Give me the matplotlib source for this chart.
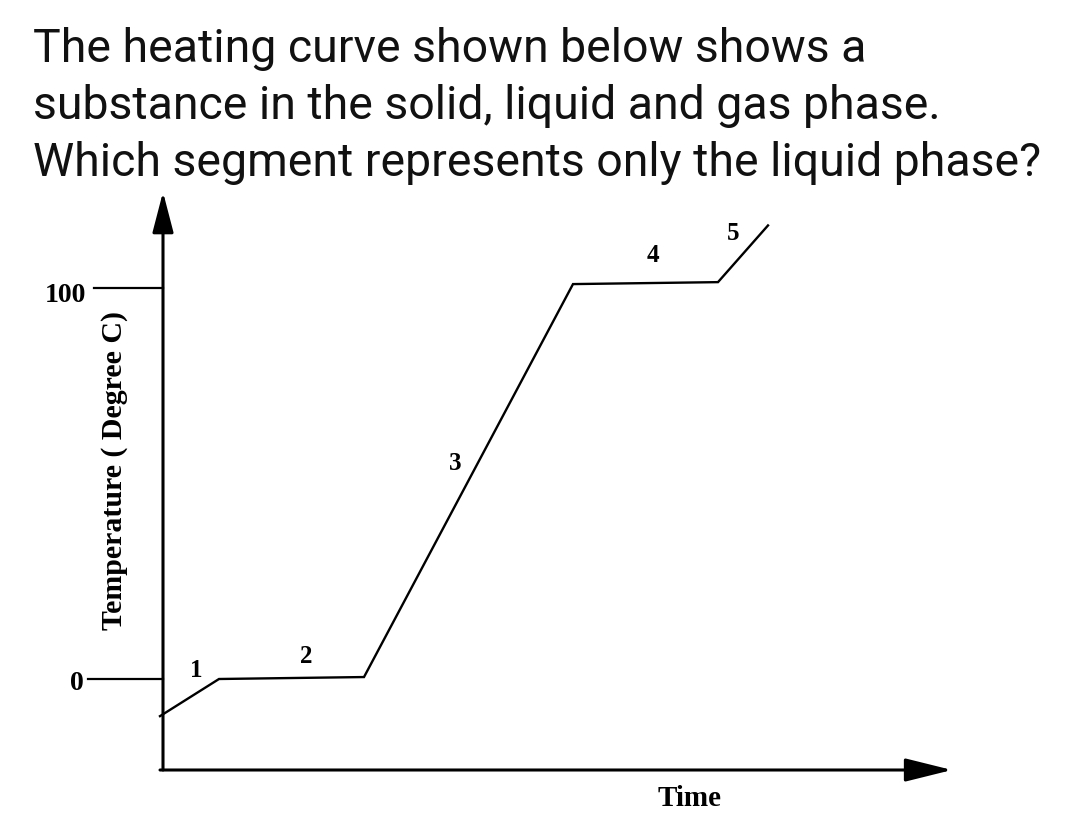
import matplotlib
matplotlib.use("Agg")
from matplotlib import pyplot as plt

# Datos de la curva de calentamiento (tiempo arbitrario, temperatura en grados C)
time_pts = [0, 5.9, 20.4, 41.3, 55.8, 60.8]
temp_pts = [-9.5, 0, 0.5, 101.0, 101.5, 116.0]

# Etiquetas de segmentos
seg_labels = ["1", "2", "3", "4", "5"]
seg_label_x = [3.6, 14.6, 29.5, 49.3, 57.3]
seg_label_y = [2.3, 5.8, 55.2, 108.2, 114.0]

# Marcas del eje y
ytick_vals = [100, 0]
ytick_text = ["100", "0"]

title_lines = [
    "The heating curve shown below shows a",
    "substance in the solid, liquid and gas phase.",
    "Which segment represents only the liquid phase?",
]

W, H = 1080, 814
fig = plt.figure(figsize=(W / 100, H / 100), dpi=100)
ax = fig.add_axes([0, 0, 1, 1])
# 1 unidad de tiempo = 10 px, 1 grado = 3.91 px; origen en (160, 679) px
ax.set_xlim(-16, (W - 160) / 10)
ax.set_ylim((679 - H) / 3.91, 679 / 3.91)
ax.axis("off")

# Titulo
for i, line in enumerate(title_lines):
    fig.text(33 / W, 1 - (62 + 57 * i) / H, line, family="Roboto", fontsize=33.4,
             ha="left", va="baseline", color="#111111")

x_axis_y = (679 - 770) / 3.91
# Ejes con flechas
ax.annotate("", xy=(79.2, x_axis_y), xytext=(0, x_axis_y),
            arrowprops=dict(arrowstyle="-|>,head_length=2.9,head_width=0.72",
                            mutation_scale=10, lw=2.2, color="black",
                            shrinkA=0, shrinkB=0))
ax.annotate("", xy=(0.3, (679 - 192) / 3.91), xytext=(0.3, x_axis_y),
            arrowprops=dict(arrowstyle="-|>,head_length=2.5,head_width=0.65",
                            mutation_scale=10, lw=2.2, color="black",
                            shrinkA=0, shrinkB=0))

serif = dict(family="Liberation Serif", fontweight="bold", color="black")

# Marcas de 100 y 0
ax.plot([-6.6, 0.3], [ytick_vals[0], ytick_vals[0]], color="black", lw=1.6)
ax.plot([-7.2, 0.3], [ytick_vals[1], ytick_vals[1]], color="black", lw=1.6)
ax.text(-7.4, ytick_vals[0] - 1.8, ytick_text[0], ha="right", va="center", fontsize=20, **serif)
ax.text(-8.3, ytick_vals[1] - 1.2, ytick_text[1], ha="center", va="center", fontsize=20, **serif)

# Curva
ax.plot(time_pts, temp_pts, color="black", lw=1.7, solid_joinstyle="miter")

for lab, lx, ly in zip(seg_labels, seg_label_x, seg_label_y):
    ax.text(lx, ly, lab, ha="center", va="center", fontsize=18, **serif)

# Etiquetas de ejes
ax.text(-4.5, (679 - 470) / 3.91, "Temperature ( Degree C)", rotation=90,
        ha="center", va="center", fontsize=21.5, **serif)
ax.text(53.0, (679 - 806) / 3.91, "Time", ha="center", va="baseline", fontsize=21, **serif)

fig.savefig("out.png", dpi=100, facecolor="white")
